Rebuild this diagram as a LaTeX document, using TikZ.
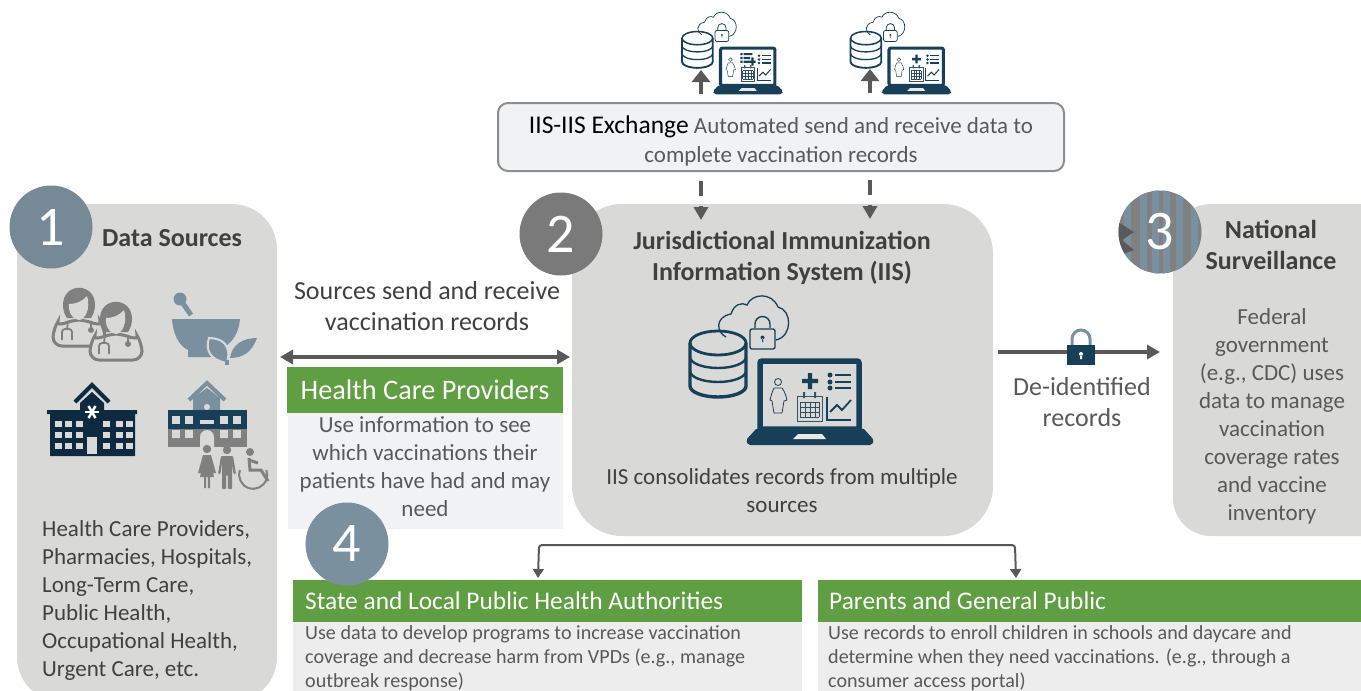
\documentclass[tikz,border=0pt]{standalone}
\usepackage{fontspec}
\setmainfont{Carlito}
\usetikzlibrary{arrows.meta}

\definecolor{panelgray}{HTML}{D9D9D7}
\definecolor{navy}{HTML}{173F57}
\definecolor{darknavy}{HTML}{0D2A40}
\definecolor{slate}{HTML}{7B909E}
\definecolor{iconmid}{HTML}{808080}
\definecolor{barmid}{HTML}{5F9E42}
\definecolor{paletext}{HTML}{595959}
\definecolor{darktext}{HTML}{404040}
\definecolor{paleblock}{HTML}{F1F2F4}
\definecolor{grayblock}{HTML}{EDEDED}

\newcommand{\fs}[2]{\fontsize{#1}{#2}\selectfont}

\tikzset{
    x=1pt,y=-1pt,
    panel/.style={fill=panelgray,rounded corners=#1},
    numdisc/.style={circle,minimum size=83pt,inner sep=0pt,text=white,font=\fs{56}{60}},
    headbold/.style={font=\fs{26}{31}\bfseries,text=darktext,align=center,inner sep=0pt},
    bodytext/.style={font=\fs{23}{28},text=paletext,align=center,inner sep=0pt},
    bigtext/.style={font=\fs{26}{31},text=darktext,align=center,inner sep=0pt},
    greenbar/.style={fill=barmid,text=white,inner sep=0pt},
    smalltext/.style={font=\fs{20.1}{24},text=paletext,align=left,inner sep=0pt},
    flowline/.style={draw=paletext,line width=3.5pt,-{Triangle[length=13pt,width=14pt]}},
    bothline/.style={draw=paletext,line width=3.5pt,{Triangle[length=13pt,width=14pt]}-{Triangle[length=13pt,width=14pt]}},
    thinflow/.style={draw=paletext,line width=2pt,rounded corners=3pt,{Triangle[length=9pt,width=11pt]}-{Triangle[length=9pt,width=11pt]}},
    dashflow/.style={draw=paletext,line width=3.5pt,dash pattern=on 15pt off 10pt on 20pt,-{Triangle[length=13pt,width=14pt]}},
    upflow/.style={draw=paletext,line width=4.5pt,-{Triangle[length=12pt,width=18pt]}},
    pics/secure/.style={code={
        % database
        \draw[navy,line width=#1*3.4] (30,53) -- (30,96) arc[x radius=28,y radius=11,start angle=180,end angle=0] -- (86,53);
        \draw[navy,line width=#1*2.8] (30,53) arc[x radius=28,y radius=12,start angle=180,end angle=540];
        \draw[navy,line width=#1*2.4] (30,67) arc[x radius=28,y radius=11,start angle=180,end angle=0];
        \draw[navy,line width=#1*2.4] (30,81) arc[x radius=28,y radius=11,start angle=180,end angle=0];
        % cloud and lock
        \draw[navy,line width=#1*1.3] (66,47) .. controls (56,42) and (55,27) .. (71,24) .. controls (74,14) and (82,12) .. (87,15) .. controls (92,3) and (112,2) .. (118,17) .. controls (132,20) and (133,46) .. (116,50);
        \draw[navy,line width=#1*1.4] (95,38) -- (95,34) arc[radius=7.5,start angle=180,end angle=360] -- (110,38);
        \draw[navy,line width=#1*1.4,rounded corners=2pt] (90,39) rectangle (115,59);
        \fill[navy] (102.5,47.5) circle[radius=2] (102,48) rectangle (103,52);
        % laptop
        \draw[navy,line width=#1*5.5,rounded corners=2pt] (100,71) rectangle (199,139);
        \fill[navy,rounded corners=2pt] (97,138) -- (203,138) -- (214,150) -- (212,155) -- (88,155) -- (86,150) -- cycle;
        \fill[white!40!panelgray] (133,149) -- (166,149) -- (162,144) -- (138,144) -- cycle;
        % person
        \draw[navy,line width=#1*.8] (118,92) circle[radius=3.5];
        \draw[navy,line width=#1*.8] (114,98) -- (122,98) .. controls (125,102) and (126,106) .. (127,110) -- (124,111) -- (122,123) -- (114,123) -- (112,111) -- (110,110) .. controls (111,106) and (112,102) .. (114,98);
        % list
        \foreach \y in {85,92,98}{
            \fill[navy] (170,\y) circle[radius=2.5];
            \draw[navy,line width=#1*2.4] (175,\y) -- (191,\y);
        }
        % calendar
        \draw[navy!70!gray,line width=#1*.8] (137,106) rectangle (162,131);
        \fill[navy!70!gray] (143,102) rectangle (145,108) (154,102) rectangle (156,108);
        \foreach \x in {140,145,150,155,159}{
            \draw[navy!80!gray,line width=#1*.6] (\x,112) -- (\x,127);
        }
        \foreach \y in {112,117,122,127}{
            \draw[navy!80!gray,line width=#1*.6] (140,\y) -- (159,\y);
        }
        % chart
        \draw[navy,line width=#1*1.8] (167,107) -- (167,130) -- (191,130);
        \draw[navy,line width=#1*1.8] (170,122) -- (177,115) -- (182,120) -- (191,110);
    }},
    pics/plusmark/.style={code={
        \fill[navy] (-8,-2.2) rectangle (8,2.2) (-2.2,-8) rectangle (2.2,8);
    }},
    pics/listarrow/.style={code={
        \fill[navy] (-14,-11) rectangle (-10,-7) (-14,-4) rectangle (-10,0) (-14,3) rectangle (-10,7);
        \fill[navy] (-8,-11) rectangle (8,-7) (-8,-4) rectangle (4,0) (-8,3) rectangle (14,7) (6,-3) rectangle (10,12);
    }},
    pics/doctor/.style={code={
        \draw[iconmid,line width=3pt,fill=panelgray,rounded corners=9pt] (-26,44) -- (-26,27) .. controls (-24,24) and (-14,21) .. (-7,18) -- (7,18) .. controls (14,21) and (24,24) .. (26,27) -- (26,44) -- cycle;
        \fill[iconmid] (-16,3) .. controls (-16,-20) and (16,-20) .. (16,3) .. controls (16,9) and (14,13) .. (12,16) -- (-12,16) .. controls (-14,13) and (-16,9) .. (-16,3) -- cycle;
        \fill[panelgray] (-10,2) .. controls (-2,2) and (5,-2) .. (8,-6) .. controls (12,6) and (6,18) .. (0,18) .. controls (-6,18) and (-11,10) .. (-10,2) -- cycle;
        \draw[iconmid,line width=1.8pt,rounded corners=3pt] (-17,34) -- (-17,27) -- (-7,27) -- (-7,34);
        \draw[iconmid,line width=1.8pt] (-11,19) -- (-12,27) (-17,34) -- (-17,38) (-7,34) -- (-7,38);
        \draw[iconmid,line width=1.8pt] (12,20) -- (12,26);
        \fill[iconmid] (12,28) circle[radius=3];
    }},
    pics/womanfig/.style={code={
        \fill[iconmid] (0,0) circle[radius=4.2];
        \fill[iconmid] (-4,6) -- (4,6) -- (9,24) -- (6,24) -- (4,15) -- (7,28) -- (3,28) -- (3,39) -- (.8,39) -- (.8,28) -- (-.8,28) -- (-.8,39) -- (-3,39) -- (-3,28) -- (-7,28) -- (-4,15) -- (-6,24) -- (-9,24) -- cycle;
    }},
    pics/manfig/.style={code={
        \fill[iconmid] (0,0) circle[radius=4.2];
        \fill[iconmid,rounded corners=1pt] (-6,6) -- (6,6) -- (9,24) -- (6.5,24) -- (5,13) -- (5,39) -- (.8,39) -- (.8,25) -- (-.8,25) -- (-.8,39) -- (-5,39) -- (-5,13) -- (-6.5,24) -- (-9,24) -- cycle;
    }}
}

\begin{document}
\begin{tikzpicture}
        \clip (0,0) rectangle (1361,691);

        % panels
        \path[panel=45pt] (17,204) rectangle (277,702);
        \path[panel=50pt] (572,204) rectangle (993,536);
        \path[panel=38pt] (1173,204) rectangle (1400,536);

        % outputs
        \fill[paleblock] (288,413) rectangle (563,529);
        \fill[grayblock] (293,622) rectangle (802,691);
        \fill[grayblock] (818,622) rectangle (1361,691);
        \node[greenbar,minimum width=276pt,minimum height=46pt,font=\fs{28.3}{30}] (providersbar) at (425,390) {Health Care Providers};
        \path[greenbar] (293,580) rectangle (802,622);
        \path[greenbar] (818,580) rectangle (1361,622);
        \node[anchor=west,text=white,inner sep=0pt,font=\fs{25.4}{30}] (statebar) at (305,601) {State and Local Public Health Authorities};
        \node[anchor=west,text=white,inner sep=0pt,font=\fs{25.4}{30}] (parentsbar) at (829,601) {Parents and General Public};
        \node[bodytext] (providerstext) at (425,467) {Use information to see\\which vaccinations their\\patients have had and may\\need};
        \node[smalltext,anchor=north west] (statetext) at (305,625) {Use data to develop programs to increase vaccination\\coverage and decrease harm from VPDs (e.g., manage\\outbreak response)};
        \node[smalltext,anchor=north west] (parentstext) at (828,625) {Use records to enroll children in schools and daycare and\\determine when they need vaccinations. (e.g., through a\\consumer access portal)};

        % exchange
        \node[draw=iconmid!90!white,line width=2pt,fill=paleblock,rounded corners=10pt,minimum width=566pt,minimum height=68pt] (exchange) at (781,137) {};
        \node[align=center,inner sep=0pt,text=paletext,font=\fs{23}{29}] (exchangetext) at (781,140.5) {{\fs{25.5}{29}\color{black}IIS-IIS Exchange} Automated send and receive data to\\complete vaccination records};

        % circles
        \node[numdisc,fill=slate!95!black] (discA) at (51,227) {1};
        \node[numdisc,fill=iconmid!95!black] (discB) at (561,234) {2};
        \begin{scope}
            \clip (1160,232) circle[radius=41.5];
            \fill[iconmid] (1118,190) rectangle (1202,274);
            \foreach \x in {1124,1140,1152,1163,1176,1191}{
                \fill[slate] (\x,190) rectangle (\x+7,274);
            }
            \fill[iconmid!70!black] (1118,222) -- (1134,232) -- (1122,240) -- (1134,250) -- (1118,256) -- cycle;
        \end{scope}
        \node[numdisc] (discC) at (1160,232) {3};
        \node[numdisc,fill=slate] (discD) at (347,544) {4};

        % panel headings and text
        \node[headbold] (sourceshead) at (172,238.5) {Data Sources};
        \node[headbold] (iishead) at (782,258) {Jurisdictional Immunization\\Information System (IIS)};
        \node[headbold] (nationalhead) at (1271,244.5) {National\\Surveillance};
        \node[bigtext] (sendtext) at (427,306) {Sources send and receive\\vaccination records};
        \node[bigtext,text=paletext] (deidtext) at (1082,402) {De-identified\\records};
        \node[bodytext,text=darktext,align=left,anchor=north west] (sourcestext) at (42,520.5) {Health Care Providers,\\Pharmacies, Hospitals,\\Long-Term Care,\\Public Health,\\Occupational Health,\\Urgent Care, etc.};
        \node[bodytext,text=darktext] (iistext) at (782,491) {IIS consolidates records from multiple\\sources};
        \node[bodytext] (nationaltext) at (1272,416) {Federal\\government\\(e.g., CDC) uses\\data to manage\\vaccination\\coverage rates\\and vaccine\\inventory};

        % connectors
        \coordinate (bothL) at (280,357);
        \coordinate (bothR) at (570,357);
        \draw[bothline] (bothL) -- (bothR);
        \coordinate (deidL) at (998,352);
        \coordinate (deidR) at (1160,352);
        \draw[flowline] (deidL) -- (deidR);
        \coordinate (splitL) at (539,545);
        \coordinate (splitR) at (1015,545);
        \coordinate (stateend) at (538,578);
        \coordinate (parentsend) at (1016,578);
        \draw[thinflow] (stateend) -- (splitL) -- (splitR) -- (parentsend);
        \coordinate (dashA) at (701,181);
        \coordinate (dashAend) at (701,220);
        \coordinate (dashB) at (870,180);
        \coordinate (dashBend) at (870,219);
        \draw[dashflow] (dashA) -- (dashAend);
        \draw[dashflow] (dashB) -- (dashBend);
        \coordinate (upA) at (701,94);
        \coordinate (upAend) at (701,70);
        \coordinate (upB) at (870,93);
        \coordinate (upBend) at (870,69);
        \draw[upflow] (upA) -- (upAend);
        \draw[upflow] (upB) -- (upBend);

        % lock on the arrow
        \draw[slate,line width=3pt] (1072,345) -- (1072,339) arc[radius=9,start angle=180,end angle=360] -- (1090,345);
        \fill[navy] (1067,345) rectangle (1095,365);
        \fill[white] (1081,354) circle[radius=2] (1080,355) rectangle (1082,359);

        % laptops
        \begin{scope}[shift={(660,290)}]
            \pic {secure=1pt};
            \pic at (150,91) {plusmark};
        \end{scope}
        \begin{scope}[shift={(665.5,9)},scale=.55,transform shape]
            \pic {secure=.55pt};
            \pic at (150,91) {listarrow};
        \end{scope}
        \begin{scope}[shift={(834,9)},scale=.55,transform shape]
            \pic {secure=.55pt};
            \pic at (150,91) {plusmark};
        \end{scope}

        % doctors
        \pic at (79,302) {doctor};
        \pic at (116,316) {doctor};

        % mortar
        \fill[slate] (180,299) circle[radius=6.5];
        \draw[slate,line width=5pt] (180,299) -- (191,315);
        \fill[slate] (172,319) -- (240,319) .. controls (239,333) and (232,345) .. (218,350) -- (217,357) -- (188,357) -- (188,350) .. controls (178,345) and (173,333) .. (172,319) -- cycle;
        \draw[panelgray,line width=2pt,fill=slate] (227,363) .. controls (210,360) and (205,350) .. (209,338) .. controls (222,338) and (232,345) .. (227,363) -- cycle;
        \fill[slate] (230,358) .. controls (232,345) and (242,338) .. (257,338) .. controls (252,352) and (243,358) .. (230,358) -- cycle;
        \fill[slate] (225,360) rectangle (229,365);

        % hospital
        \draw[darknavy,line width=4pt] (75,402) -- (92,385) -- (109,402);
        \fill[darknavy] (80,410) -- (80,403) -- (92,392) -- (104,403) -- (104,410) -- cycle;
        \fill[darknavy] (47,410) rectangle (137,414) (50,414) rectangle (135,456);
        \foreach \y in {421,432,443}{
            \foreach \x in {55,65,76,103,116,126}{
                \fill[panelgray] (\x,\y) rectangle (\x+6.5,\y+6);
            }
        }
        \foreach \a in {0,60,120}{
            \draw[white,line width=2.5pt] (92,412) ++(\a:7) -- ++(\a+180:14);
        }
        \fill[panelgray] (87,437) rectangle (97,454);

        % clinic
        \draw[slate,line width=4pt] (189,400) -- (207,383) -- (225,400);
        \fill[slate] (193,410) -- (193,398) -- (207,388) -- (220,398) -- (220,410) -- cycle;
        \fill[panelgray] (207,407) circle[radius=3];
        \fill[navy] (168,410) rectangle (247,429);
        \fill[iconmid] (168,429) rectangle (247,447);
        \foreach \x in {172,185,220,233}{
            \fill[panelgray] (\x,416) rectangle (\x+8,424);
            \fill[panelgray] (\x,430) rectangle (\x+8,438);
        }
        \fill[panelgray] (200,420) rectangle (214,424);
        \fill[panelgray] (200,447) -- (200,437) arc[radius=7,start angle=180,end angle=360] -- (214,447) -- cycle;

        % people
        \pic at (207,449) {womanfig};
        \pic at (227,450) {manfig};
        \fill[iconmid] (250,452) circle[radius=4];
        \draw[iconmid,line width=3pt] (249,458) -- (250,470) -- (261,470) -- (268,481);
        \draw[iconmid,line width=3pt] (249,460) -- (258,463);
        \draw[iconmid,line width=2pt] (240,470) arc[radius=14,start angle=200,end angle=-20];
\end{tikzpicture}
\end{document}
